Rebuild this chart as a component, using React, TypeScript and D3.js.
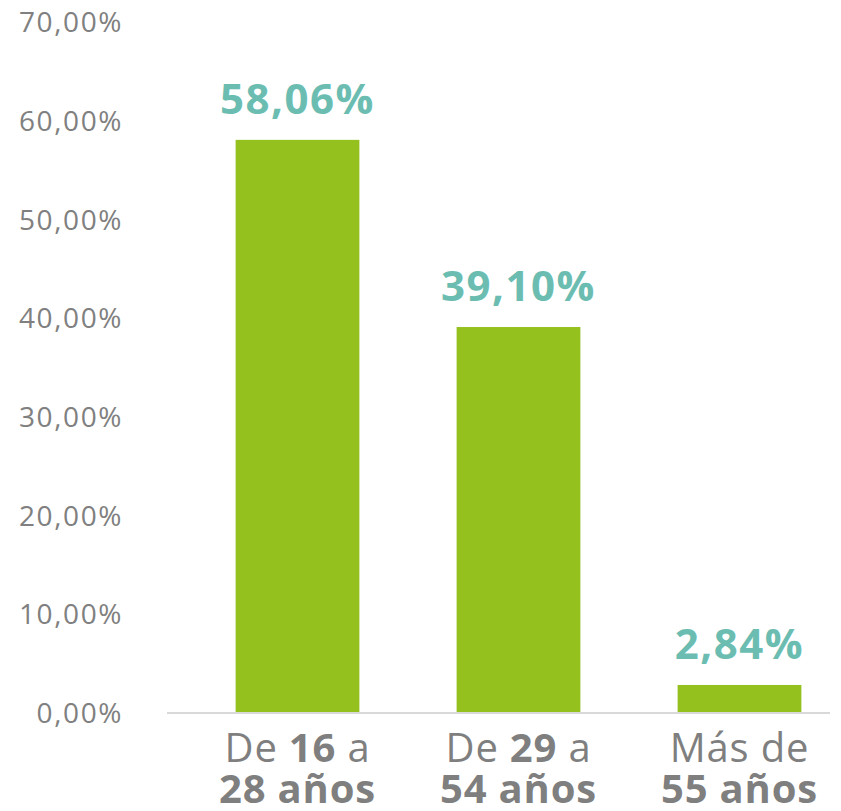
import { useEffect, useRef } from "react";
import * as d3 from "d3";

const categories = ["16-28", "29-54", "55+"];
const values = [58.06, 39.1, 2.84];
const valueLabels = ["58,06%", "39,10%", "2,84%"];
const labelLines: { text: string; bold: boolean }[][][] = [
  [
    [
      { text: "De ", bold: false },
      { text: "16", bold: true },
      { text: " a", bold: false },
    ],
    [{ text: "28 años", bold: true }],
  ],
  [
    [
      { text: "De ", bold: false },
      { text: "29", bold: true },
      { text: " a", bold: false },
    ],
    [{ text: "54 años", bold: true }],
  ],
  [
    [{ text: "Más de", bold: false }],
    [{ text: "55 años", bold: true }],
  ],
];
const yTicks = [0, 10, 20, 30, 40, 50, 60, 70];

const width = 841;
const height = 811;
const font = "'Open Sans', sans-serif";

const App = () => {
  const svgRef = useRef<SVGSVGElement>(null);

  useEffect(() => {
    if (!svgRef.current) return;
    const svg = d3.select(svgRef.current);
    svg.selectAll("*").remove();

    const y = d3.scaleLinear().domain([0, 70]).range([713, 22]);
    const x = d3
      .scaleBand<string>()
      .domain(categories)
      .range([187, 850])
      .paddingInner(0.44)
      .paddingOuter(0.22);

    // y tick labels
    svg
      .append("g")
      .selectAll("text")
      .data(yTicks)
      .enter()
      .append("text")
      .attr("x", 123)
      .attr("y", d => y(d))
      .attr("dy", "0.36em")
      .attr("text-anchor", "end")
      .attr("font-family", font)
      .attr("font-size", 28)
      .attr("letter-spacing", 1.6)
      .attr("fill", "#808080")
      .text(d => d3.format(".2f")(d).replace(".", ",") + "%");

    // bars
    svg
      .append("g")
      .selectAll("rect")
      .data(values)
      .enter()
      .append("rect")
      .attr("x", (_, i) => x(categories[i])!)
      .attr("width", x.bandwidth())
      .attr("y", d => y(d))
      .attr("height", d => y(0) - y(d))
      .attr("fill", "#95c11f");

    // baseline
    svg
      .append("line")
      .attr("x1", 167)
      .attr("x2", 830)
      .attr("y1", y(0))
      .attr("y2", y(0))
      .attr("stroke", "#d9d9d9")
      .attr("stroke-width", 2);

    // value labels
    svg
      .append("g")
      .selectAll("text")
      .data(values)
      .enter()
      .append("text")
      .attr("x", (_, i) => x(categories[i])! + x.bandwidth() / 2)
      .attr("y", d => y(d) - 26)
      .attr("text-anchor", "middle")
      .attr("font-family", font)
      .attr("font-weight", "bold")
      .attr("font-size", 42)
      .attr("letter-spacing", 1.5)
      .attr("fill", "#6cbdb1")
      .text((_, i) => valueLabels[i]);

    // category labels
    const cat = svg.append("g");
    categories.forEach((c, i) => {
      const cx = x(c)! + x.bandwidth() / 2;
      labelLines[i].forEach((line, li) => {
        const t = cat
          .append("text")
          .attr("x", cx)
          .attr("y", 762 + li * 41)
          .attr("text-anchor", "middle")
          .attr("font-family", font)
          .attr("font-size", 40)
          .attr("letter-spacing", 0.8)
          .attr("fill", "#7f7f7f");
        line.forEach(part => {
          t.append("tspan")
            .attr("font-weight", part.bold ? "bold" : "normal")
            .text(part.text);
        });
      });
    });
  }, []);

  return (
    <svg
      ref={svgRef}
      width={width}
      height={height}
      style={{ display: "block", margin: -8 }}
    />
  );
};

export default App;
